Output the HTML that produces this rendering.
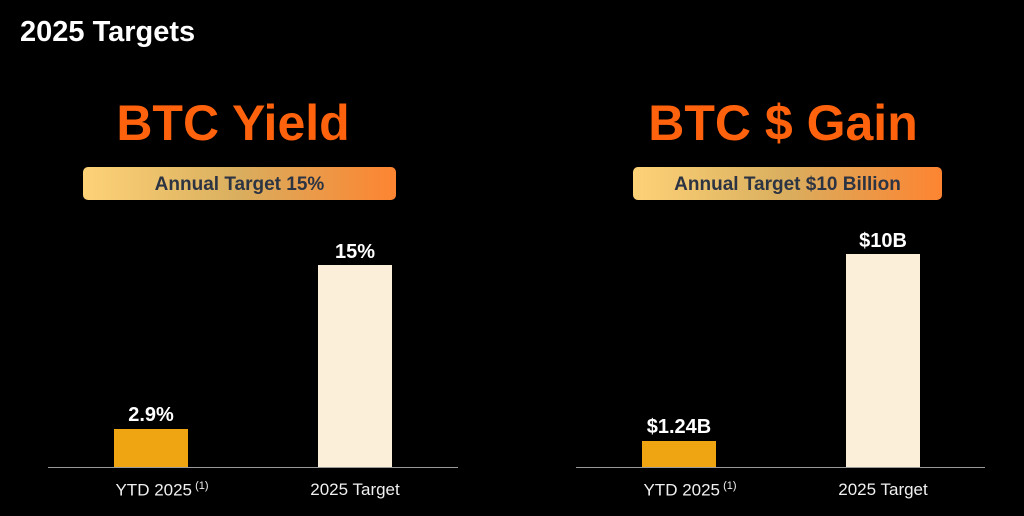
<!DOCTYPE html>
<html><head><style>
body{margin:0;width:1024px;height:516px;background:#000;position:relative;overflow:hidden;font-family:"Liberation Sans",Arial,sans-serif;color:#fff}
.a{position:absolute}
.h{left:20px;top:16px;font-size:29px;font-weight:bold}
.t{font-size:50px;font-weight:bold;color:#fe620d;text-align:center;width:400px;top:94px}
.b{top:167px;height:33px;border-radius:5px;background:linear-gradient(90deg,#fdd277,#d9ae5e 50%,#fd8431);color:#2c3443;font-weight:bold;font-size:19px;text-align:center;line-height:35px}
.ax{height:1px;background:#9a9a9a;top:467px}
.bar{width:74px}
.y{background:#efa512}.c{background:#fcefd9}
.v{font-weight:bold;font-size:20px;width:120px;text-align:center}
.l{font-size:17px;width:160px;text-align:center;top:480px;color:#f0f0f0}
sup{font-size:11px}
</style></head><body>
<div class="a h">2025 Targets</div>
<div class="a t" style="left:33px">BTC Yield</div>
<div class="a t" style="left:583px">BTC $ Gain</div>
<div class="a b" style="left:83px;width:313px">Annual Target 15%</div>
<div class="a b" style="left:633px;width:309px">Annual Target $10 Billion</div>
<div class="a ax" style="left:48px;width:410px"></div>
<div class="a ax" style="left:576px;width:409px"></div>
<div class="a bar y" style="left:114px;top:429px;height:38px"></div>
<div class="a bar c" style="left:318px;top:265px;height:202px"></div>
<div class="a bar y" style="left:642px;top:441px;height:26px"></div>
<div class="a bar c" style="left:846px;top:254px;height:213px"></div>
<div class="a v" style="left:91px;top:404px">2.9%</div>
<div class="a v" style="left:295px;top:241px">15%</div>
<div class="a v" style="left:619px;top:416px">$1.24B</div>
<div class="a v" style="left:823px;top:230px">$10B</div>
<div class="a l" style="left:82px">YTD 2025<sup> (1)</sup></div>
<div class="a l" style="left:275px">2025 Target</div>
<div class="a l" style="left:610px">YTD 2025<sup> (1)</sup></div>
<div class="a l" style="left:803px">2025 Target</div>
</body></html>
